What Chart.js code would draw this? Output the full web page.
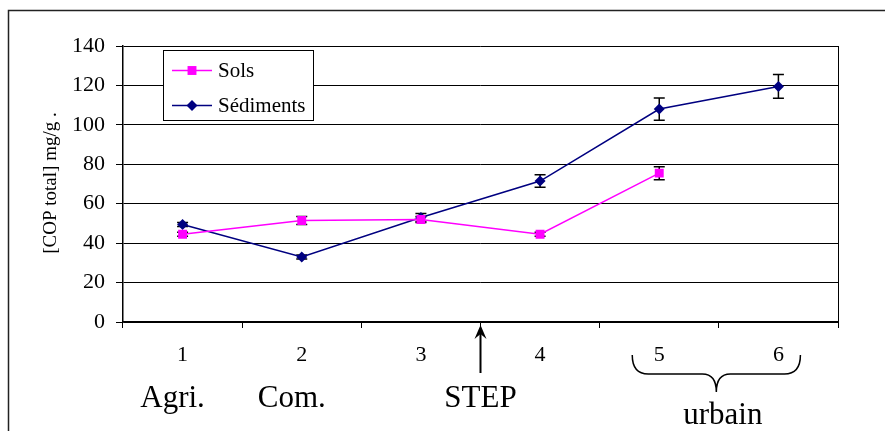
<!DOCTYPE html>
<html>
<head>
<meta charset="utf-8">
<script src="https://cdn.jsdelivr.net/npm/chart.js@4.4.1/dist/chart.umd.min.js"></script>
<style>
  html, body { margin: 0; padding: 0; background: #fff; }
  #wrap { width: 885px; height: 431px; position: relative; }
</style>
</head>
<body>
<div id="wrap"><canvas id="c" width="885" height="431"></canvas></div>
<script>
// ---- data ----
const categories = ['1', '2', '3', '4', '5', '6'];
const solsValues = [44.5, 51.5, 52, 44.5, 75.5, null];
const solsErrors = [1, 2, 1.5, 1, 3.3, null];
const sedimentsValues = [49.5, 33, 53, 71.5, 108, 119.5];
const sedimentsErrors = [1, 1, 2, 3.2, 5.6, 6];
const yTicks = [0, 20, 40, 60, 80, 100, 120, 140];
const yTitle = '[COP total] mg/g .';
const zoneLabels = ['Agri.', 'Com.'];        // under categories 1 and 2
const stepLabel = 'STEP';                    // between categories 3 and 4
const urbanLabel = 'urbain';                 // spanning categories 5 and 6

const SERIF = "'Liberation Serif', 'Times New Roman', serif";

const errorBars = {
  id: 'errorBars',
  beforeDatasetsDraw(chart) {
    const ctx = chart.ctx;
    const x = chart.scales.x, y = chart.scales.y;
    const errs = [solsErrors, sedimentsErrors];
    ctx.save();
    ctx.strokeStyle = '#000';
    ctx.lineWidth = 1.5;
    chart.data.datasets.forEach((ds, di) => {
      ds.data.forEach((v, i) => {
        const e = errs[di][i];
        if (v == null || e == null) return;
        const px = x.getPixelForValue(i);
        const top = y.getPixelForValue(v + e);
        const bot = y.getPixelForValue(v - e);
        ctx.beginPath();
        ctx.moveTo(px, top); ctx.lineTo(px, bot);
        ctx.moveTo(px - 5.5, top); ctx.lineTo(px + 5.5, top);
        ctx.moveTo(px - 5.5, bot); ctx.lineTo(px + 5.5, bot);
        ctx.stroke();
      });
    });
    ctx.restore();
  }
};

const decorations = {
  id: 'decorations',
  afterDraw(chart) {
    const ctx = chart.ctx;
    const a = chart.chartArea;
    const x = chart.scales.x;
    ctx.save();
    // outer frame (left and top)
    ctx.strokeStyle = '#222';
    ctx.lineWidth = 1.5;
    ctx.beginPath();
    ctx.moveTo(8.5, 431); ctx.lineTo(8.5, 10.5); ctx.lineTo(885, 10.5);
    ctx.stroke();
    // plot right border
    ctx.lineWidth = 1;
    ctx.strokeStyle = '#000';
    ctx.beginPath();
    ctx.moveTo(Math.round(a.right) + 0.5, a.top);
    ctx.lineTo(Math.round(a.right) + 0.5, a.bottom + 6);
    ctx.stroke();

    // y title
    ctx.save();
    ctx.translate(51, 183);
    ctx.rotate(-Math.PI / 2);
    ctx.fillStyle = '#000';
    ctx.font = '19px ' + SERIF;
    ctx.textAlign = 'center';
    ctx.textBaseline = 'middle';
    ctx.fillText(yTitle, 0, 0);
    ctx.restore();

    // legend
    const lx = 163.5, ly = 50.5, lw = 150, lh = 70;
    ctx.fillStyle = '#fff';
    ctx.fillRect(lx, ly, lw, lh);
    ctx.strokeStyle = '#000';
    ctx.lineWidth = 1;
    ctx.strokeRect(lx, ly, lw, lh);
    const rows = [70.5, 105.5];
    chart.data.datasets.forEach((ds, i) => {
      const ry = rows[i];
      ctx.strokeStyle = ds.borderColor;
      ctx.lineWidth = 1.5;
      ctx.beginPath();
      ctx.moveTo(172, ry); ctx.lineTo(212, ry);
      ctx.stroke();
      ctx.fillStyle = ds.backgroundColor;
      ctx.beginPath();
      if (ds.pointStyle === 'rect') {
        const s = Math.SQRT1_2 * ds.pointRadius;
        ctx.rect(192 - s, ry - s, 2 * s, 2 * s);
      } else {
        const r = ds.pointRadius;
        ctx.moveTo(192, ry - r); ctx.lineTo(192 + r, ry); ctx.lineTo(192, ry + r); ctx.lineTo(192 - r, ry); ctx.closePath();
      }
      ctx.fill();
      ctx.fillStyle = '#000';
      ctx.font = '21px ' + SERIF;
      ctx.textAlign = 'left';
      ctx.textBaseline = 'middle';
      ctx.fillText(ds.label, 218, ry + 1);
    });

    // zone annotations
    ctx.fillStyle = '#000';
    ctx.font = '31px ' + SERIF;
    ctx.textAlign = 'center';
    ctx.textBaseline = 'alphabetic';
    zoneLabels.forEach((t, i) => ctx.fillText(t, x.getPixelForValue(i) - 10, 407));
    const stepX = (x.getPixelForValue(2) + x.getPixelForValue(3)) / 2;
    ctx.fillText(stepLabel, stepX, 407);
    const urbX = (x.getPixelForValue(4) + x.getPixelForValue(5)) / 2;
    ctx.fillText(urbanLabel, urbX + 4, 424);

    // arrow
    ctx.strokeStyle = '#000';
    ctx.lineWidth = 2;
    ctx.beginPath();
    ctx.moveTo(stepX, 373); ctx.lineTo(stepX, 330);
    ctx.stroke();
    ctx.beginPath();
    ctx.moveTo(stepX, 325); ctx.lineTo(stepX - 6, 339); ctx.lineTo(stepX, 334); ctx.lineTo(stepX + 6, 339); ctx.closePath();
    ctx.fillStyle = '#000';
    ctx.fill();

    // brace
    const bl = x.getPixelForValue(4) - 27, br = x.getPixelForValue(5) + 22;
    const bm = (bl + br) / 2;
    ctx.lineWidth = 1.5;
    ctx.beginPath();
    ctx.moveTo(bl, 355);
    ctx.quadraticCurveTo(bl, 374, bl + 16, 374);
    ctx.lineTo(bm - 14, 374);
    ctx.quadraticCurveTo(bm, 374, bm, 392);
    ctx.quadraticCurveTo(bm, 374, bm + 14, 374);
    ctx.lineTo(br - 16, 374);
    ctx.quadraticCurveTo(br, 374, br, 355);
    ctx.stroke();
    ctx.restore();
  }
};

new Chart(document.getElementById('c'), {
  type: 'line',
  data: {
    labels: categories,
    datasets: [
      {
        label: 'Sols',
        data: solsValues,
        borderColor: '#ff00ff',
        backgroundColor: '#ff00ff',
        borderWidth: 1.5,
        pointStyle: 'rect',
        pointRadius: 6.3,
        pointBorderWidth: 0,
        tension: 0,
        spanGaps: false
      },
      {
        label: 'Sédiments',
        data: sedimentsValues,
        borderColor: '#000080',
        backgroundColor: '#000080',
        borderWidth: 1.5,
        pointStyle: 'rectRot',
        pointRadius: 5.5,
        pointBorderWidth: 0,
        tension: 0
      }
    ]
  },
  options: {
    responsive: false,
    devicePixelRatio: 1,
    animation: false,
    layout: { padding: { left: 0, top: 46, right: 47, bottom: 0 } },
    plugins: { legend: { display: false }, tooltip: { enabled: false } },
    scales: {
      x: {
        type: 'category',
        offset: true,
        afterFit(s) { s.height = 109; },
        grid: { display: true, offset: true, drawOnChartArea: false, drawTicks: true, tickLength: 6, color: '#000', lineWidth: 1 },
        border: { display: true, color: '#000', width: 1.5 },
        ticks: { color: '#000', font: { family: SERIF, size: 22 }, padding: 14, maxRotation: 0 }
      },
      y: {
        min: 0, max: 140,
        afterFit(s) { s.width = 123; },
        afterBuildTicks(s) { s.ticks = yTicks.map(v => ({ value: v })); },
        grid: { color: '#000', lineWidth: 1, drawTicks: true, tickLength: 7 },
        border: { display: true, color: '#000', width: 1.5 },
        ticks: { color: '#000', font: { family: SERIF, size: 22 }, padding: 11 }
      }
    }
  },
  plugins: [errorBars, decorations]
});
</script>
</body>
</html>
